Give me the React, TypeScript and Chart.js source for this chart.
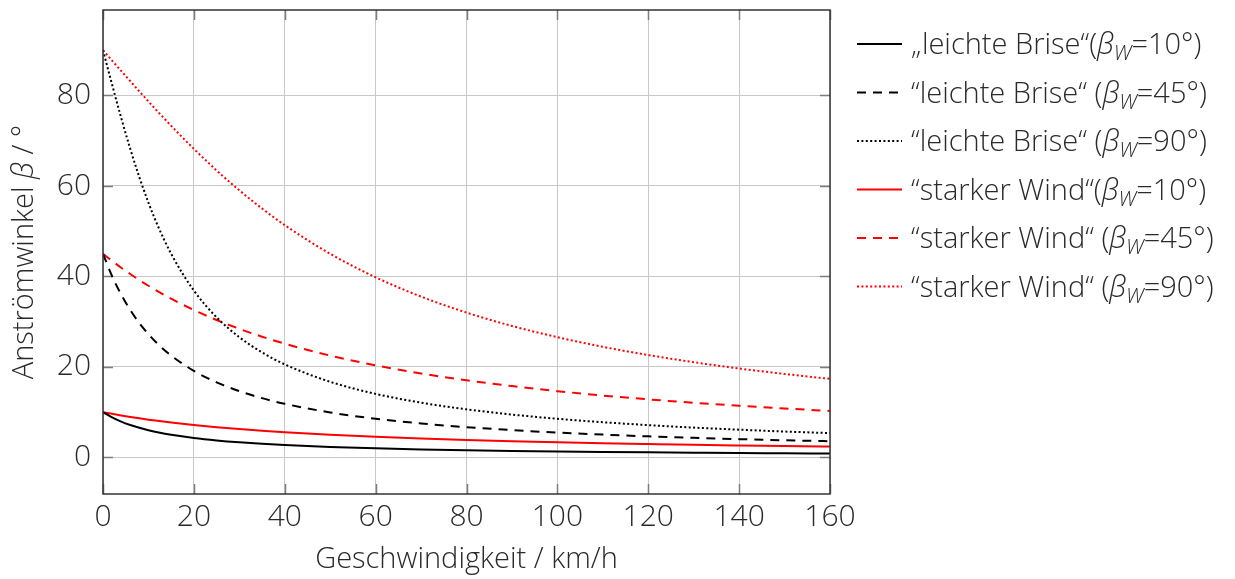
import React, { useEffect, useRef } from 'react';
import { Chart, registerables } from 'chart.js';

Chart.register(...registerables);

// Geschwindigkeit / km/h
const speeds = [0, 2, 4, 6, 8, 10, 12, 15, 20, 25, 30, 35, 40, 50, 60, 70, 80, 90, 100, 110, 120, 130, 140, 150, 160];

// Anströmwinkel β / °
const breeze10 = [10.0, 8.83, 7.9, 7.15, 6.53, 6.0, 5.56, 5.0, 4.29, 3.75, 3.33, 3.0, 2.72, 2.3, 2.0, 1.76, 1.57, 1.42, 1.3, 1.2, 1.11, 1.03, 0.96, 0.91, 0.85];
const breeze45 = [45.0, 40.08, 35.99, 32.57, 29.69, 27.24, 25.13, 22.5, 19.12, 16.59, 14.64, 13.09, 11.84, 9.93, 8.54, 7.5, 6.68, 6.02, 5.48, 5.03, 4.64, 4.31, 4.03, 3.78, 3.56];
const breeze90 = [90.0, 82.41, 75.07, 68.2, 61.93, 56.31, 51.34, 45.0, 36.87, 30.96, 26.57, 23.2, 20.56, 16.7, 14.04, 12.09, 10.62, 9.46, 8.53, 7.77, 7.13, 6.58, 6.12, 5.71, 5.36];
const strong10 = [10.0, 9.62, 9.26, 8.93, 8.63, 8.34, 8.07, 7.7, 7.15, 6.67, 6.25, 5.88, 5.56, 5.0, 4.54, 4.16, 3.84, 3.57, 3.33, 3.12, 2.94, 2.77, 2.63, 2.5, 2.38];
const strong45 = [45.0, 43.43, 41.93, 40.53, 39.19, 37.94, 36.75, 35.07, 32.57, 30.36, 28.42, 26.68, 25.13, 22.5, 20.34, 18.55, 17.04, 15.75, 14.64, 13.67, 12.82, 12.07, 11.4, 10.8, 10.26];
const strong90 = [90.0, 87.71, 85.43, 83.16, 80.91, 78.69, 76.5, 73.3, 68.2, 63.43, 59.04, 55.01, 51.34, 45.0, 39.81, 35.54, 32.01, 29.05, 26.57, 24.44, 22.62, 21.04, 19.65, 18.43, 17.35];

const xTicks = [0, 20, 40, 60, 80, 100, 120, 140, 160];
const yTicks = [0, 20, 40, 60, 80];

const legendPrefixes = [
  '\u201Eleichte Brise\u201C(',
  '\u201Cleichte Brise\u201C (',
  '\u201Cleichte Brise\u201C (',
  '\u201Cstarker Wind\u201C(',
  '\u201Cstarker Wind\u201C (',
  '\u201Cstarker Wind\u201C (',
];
const betaW = [10, 45, 90, 10, 45, 90];

const FONT = '"Open Sans", "DejaVu Sans", sans-serif';
const TEXT = '#2a2a2a';
const DASHED = [9, 7];
const DOTTED = [2, 2.4];

const toPoints = (ys: number[]) => ys.map((y, i) => ({ x: speeds[i], y }));

function drawParts(ctx: CanvasRenderingContext2D, parts: { t: string; f: string; dy?: number }[], x: number, y: number) {
  let cx = x;
  for (const p of parts) {
    ctx.font = p.f;
    ctx.fillText(p.t, cx, y + (p.dy || 0));
    cx += ctx.measureText(p.t).width;
  }
  return cx;
}
function measureParts(ctx: CanvasRenderingContext2D, parts: { t: string; f: string }[]) {
  let w = 0;
  for (const p of parts) {
    ctx.font = p.f;
    w += ctx.measureText(p.t).width;
  }
  return w;
}

const decorPlugin = {
  id: 'decor',
  beforeDatasetsDraw(chart: any) {
    const { ctx, chartArea: a, scales } = chart;
    ctx.save();
    ctx.strokeStyle = '#7d7d7d';
    ctx.lineWidth = 1.5;
    ctx.beginPath();
    for (const v of xTicks) {
      const px = Math.round(scales.x.getPixelForValue(v)) + 0.5;
      ctx.moveTo(px, a.bottom);
      ctx.lineTo(px, a.bottom - 10);
      ctx.moveTo(px, a.top);
      ctx.lineTo(px, a.top + 10);
    }
    for (const v of yTicks) {
      const py = Math.round(scales.y.getPixelForValue(v)) + 0.5;
      ctx.moveTo(a.left, py);
      ctx.lineTo(a.left + 10, py);
      ctx.moveTo(a.right, py);
      ctx.lineTo(a.right - 10, py);
    }
    ctx.stroke();
    ctx.restore();
  },
  afterDatasetsDraw(chart: any) {
    const { ctx, chartArea: a } = chart;
    ctx.save();
    ctx.strokeStyle = '#333333';
    ctx.lineWidth = 1.5;
    ctx.strokeRect(a.left, a.top, a.right - a.left, a.bottom - a.top);
    ctx.restore();
  },
  afterDraw(chart: any) {
    const { ctx, chartArea: a } = chart;
    ctx.save();
    ctx.fillStyle = TEXT;
    ctx.textBaseline = 'alphabetic';
    ctx.textAlign = 'left';

    // x axis title
    const xt = 'Geschwindigkeit / km/h';
    ctx.font = `300 29px ${FONT}`;
    const xw = ctx.measureText(xt).width;
    ctx.fillText(xt, (a.left + a.right) / 2 - xw / 2, 568);

    // y axis title (rotated)
    const yParts = [
      { t: 'Anströmwinkel ', f: `300 29px ${FONT}` },
      { t: 'β', f: `italic 300 29px ${FONT}` },
      { t: ' / °', f: `300 29px ${FONT}` },
    ];
    const yw = measureParts(ctx, yParts);
    ctx.save();
    ctx.translate(33, (a.top + a.bottom) / 2);
    ctx.rotate(-Math.PI / 2);
    drawParts(ctx, yParts, -yw / 2, 0);
    ctx.restore();

    // legend
    chart.data.datasets.forEach((ds: any, i: number) => {
      const y = 44 + i * 48.5;
      ctx.save();
      ctx.strokeStyle = ds.borderColor;
      ctx.lineWidth = 2;
      ctx.setLineDash(ds.borderDash || []);
      ctx.beginPath();
      ctx.moveTo(857, y);
      ctx.lineTo(902, y);
      ctx.stroke();
      ctx.restore();
      ctx.fillStyle = TEXT;
      drawParts(
        ctx,
        [
          { t: legendPrefixes[i], f: `300 29px ${FONT}` },
          { t: 'β', f: `italic 300 29px ${FONT}` },
          { t: 'W', f: `italic 300 21px ${FONT}`, dy: 6 },
          { t: `=${betaW[i]}°)`, f: `300 29px ${FONT}` },
        ],
        911,
        y + 10
      );
    });
    ctx.restore();
  },
};

export default function App() {
  const ref = useRef<HTMLCanvasElement | null>(null);
  useEffect(() => {
    document.body.style.margin = '0';
    const canvas = ref.current!;
    const mk = (ys: number[], color: string, dash: number[]) => ({
      data: toPoints(ys),
      borderColor: color,
      backgroundColor: color,
      borderWidth: 2,
      borderDash: dash,
      pointRadius: 0,
      fill: false,
      cubicInterpolationMode: 'monotone' as const,
    });
    const chart = new Chart(canvas, {
      type: 'line',
      data: {
        datasets: [
          { label: 'leichte Brise 10', ...mk(breeze10, '#000000', []) },
          { label: 'leichte Brise 45', ...mk(breeze45, '#000000', DASHED) },
          { label: 'leichte Brise 90', ...mk(breeze90, '#000000', DOTTED) },
          { label: 'starker Wind 10', ...mk(strong10, '#ff0000', []) },
          { label: 'starker Wind 45', ...mk(strong45, '#ff0000', DASHED) },
          { label: 'starker Wind 90', ...mk(strong90, '#ff0000', DOTTED) },
        ],
      },
      options: {
        animation: false,
        responsive: false,
        maintainAspectRatio: false,
        devicePixelRatio: 1,
        layout: { padding: { left: 0, right: 405, top: 10, bottom: 0 } },
        plugins: { legend: { display: false }, tooltip: { enabled: false }, title: { display: false } },
        scales: {
          x: {
            type: 'linear',
            min: 0,
            max: 160,
            afterBuildTicks: (s: any) => {
              s.ticks = xTicks.map((v) => ({ value: v }));
            },
            afterFit: (s: any) => {
              s.height = 85;
              s.paddingLeft = 0;
              s.paddingRight = 0;
            },
            grid: { color: '#c8c8c8', lineWidth: 1, drawTicks: false },
            border: { display: false },
            ticks: { color: TEXT, font: { family: FONT, size: 30, weight: 300 }, padding: 5, maxRotation: 0 },
          },
          y: {
            type: 'linear',
            min: -8.1,
            max: 98.9,
            afterBuildTicks: (s: any) => {
              s.ticks = yTicks.map((v) => ({ value: v }));
            },
            afterFit: (s: any) => {
              s.width = 103;
              s.paddingTop = 0;
              s.paddingBottom = 0;
            },
            grid: { color: '#c8c8c8', lineWidth: 1, drawTicks: false },
            border: { display: false },
            ticks: { color: TEXT, font: { family: FONT, size: 30, weight: 300 }, padding: 12 },
          },
        },
      },
      plugins: [decorPlugin],
    });
    return () => chart.destroy();
  }, []);
  return <canvas ref={ref} width={1235} height={579} style={{ display: 'block', width: 1235, height: 579 }} />;
}
